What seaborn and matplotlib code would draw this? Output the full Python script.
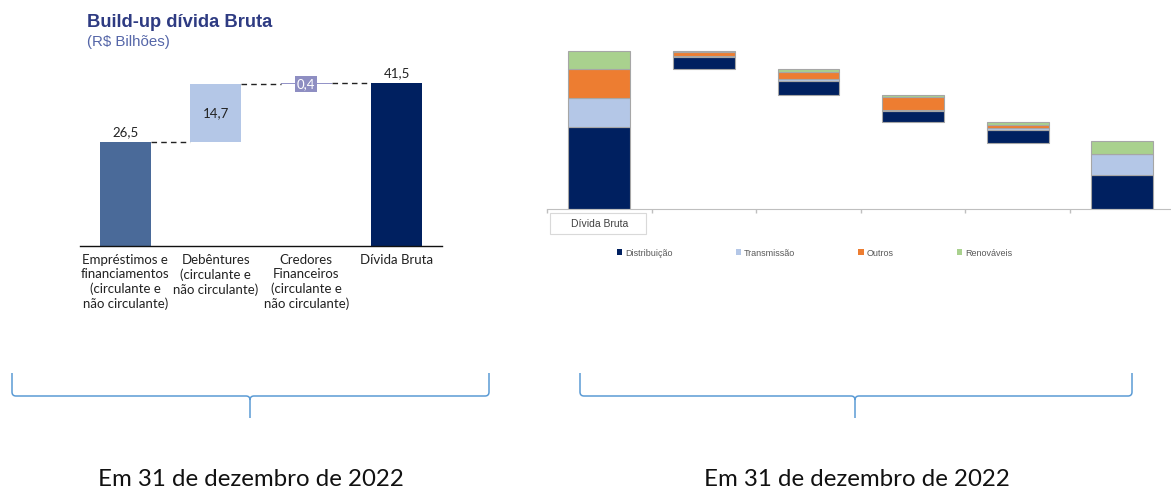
import numpy as np
import matplotlib.pyplot as plt
import seaborn as sns
from matplotlib.path import Path
from matplotlib.patches import PathPatch, Rectangle, Patch
from matplotlib.transforms import blended_transform_factory

# left chart data (R$ bilhões)
left_cats = ['Empréstimos e\nfinanciamentos\n(circulante e\nnão circulante)',
             'Debêntures\n(circulante e\nnão circulante)',
             'Credores\nFinanceiros\n(circulante e\nnão circulante)',
             'Dívida Bruta']
left_values = [26.5, 14.7, 0.4, 41.5]
left_labels = ['26,5', '14,7', '0,4', '41,5']
left_colors = ['#4a6a99', '#b4c7e7', '#9494c8', '#002060']

# right chart data (stacked waterfall)
right_cats = ['Dívida Bruta', 'b2', 'b3', 'b4', 'b5', 'b6']
seg_names = ['Distribuição', 'Transmissão', 'Outros', 'Renováveis']
seg_colors = ['#002060', '#b4c7e7', '#ed7d31', '#a9d18e']
distribuicao = [21.6, 3.1, 3.6, 3.0, 3.3, 9.0]
transmissao = [7.5, 0.35, 0.7, 0.15, 0.6, 5.4]
outros = [7.6, 1.1, 1.75, 3.5, 0.8, 0.1]
renovaveis = [4.8, 0.2, 0.8, 0.45, 0.7, 3.4]

W, H = 1171, 490
sns.set_style('white')
plt.rcParams['font.family'] = ['Lato', 'DejaVu Sans']

fig = plt.figure(figsize=(W / 100, H / 100), dpi=100)


def fx(x):
    return x / W


def fy(y):
    return 1 - y / H


# ---------------- left chart ----------------
ax1 = fig.add_axes([fx(80), fy(246), 362 / W, 186 / H])
left_bottoms = [0, left_values[0], left_values[0] + left_values[1], 0]
sns.barplot(x=left_cats, y=left_values, bottom=left_bottoms, width=0.56,
            color=left_colors[0], saturation=1, errorbar=None, ax=ax1)
for p, c in zip(ax1.patches, left_colors):
    p.set_facecolor(c)
    p.set_edgecolor('none')
ax1.set_xlim(-0.5, 3.5)
ax1.set_ylim(0, 186 / 3.92)
sns.despine(ax=ax1, left=True)
ax1.spines['bottom'].set_color('#111111')
ax1.spines['bottom'].set_linewidth(1)
ax1.set_yticks([])
ax1.set_ylabel('')
ax1.tick_params(axis='x', length=0, pad=6, labelsize=9.5, labelcolor='#222222')

# connectors
tops = [b + v for b, v in zip(left_bottoms, left_values)]
for i in range(3):
    ax1.plot([i + 0.28, i + 1 - 0.28], [tops[i], tops[i]], color='#222222',
             lw=1, ls=(0, (4, 3)))

# value labels
ax1.annotate(left_labels[0], (0, tops[0]), xytext=(0, 3), textcoords='offset points',
             ha='center', va='bottom', fontsize=9.5, color='#222222')
ax1.text(1, left_bottoms[1] + left_values[1] / 2, left_labels[1], ha='center',
         va='center', fontsize=9.5, color='#222222')
ax1.text(2, tops[2] - 0.2, left_labels[2], ha='center', va='center', fontsize=9.5,
         color='white', bbox=dict(boxstyle='square,pad=0.15', fc='#8e8ec2', ec='none'))
ax1.annotate(left_labels[3], (3, tops[3]), xytext=(0, 3), textcoords='offset points',
             ha='center', va='bottom', fontsize=9.5, color='#222222')

fig.text(fx(87), fy(27), 'Build-up dívida Bruta', family='Liberation Sans',
         fontweight='bold', fontsize=13.2, color='#2e3b82', va='baseline')
fig.text(fx(87), fy(46), '(R$ Bilhões)', family='Liberation Sans',
         fontsize=10.8, color='#5566a8', va='baseline')

# ---------------- right chart ----------------
ax2 = fig.add_axes([fx(547), fy(209), 6 * 104.6 / W, 169 / H])
segs = [distribuicao, transmissao, outros, renovaveis]
totals = [sum(s[i] for s in segs) for i in range(len(right_cats))]
bases = [0.0]
level = totals[0]
for i in range(1, len(right_cats) - 1):
    level = level - totals[i]
    bases.append(level)
bases.append(0.0)

cum = np.array(bases)
for name, vals, col in zip(seg_names, segs, seg_colors):
    sns.barplot(x=right_cats, y=vals, bottom=cum, width=0.59, color=col,
                edgecolor='#a6a6a6', linewidth=0.8, saturation=1,
                errorbar=None, ax=ax2)
    cum = cum + np.array(vals)

ax2.set_xlim(-0.5, 5.5)
ax2.set_ylim(0, 169 / 3.807)
sns.despine(ax=ax2, left=True)
ax2.spines['bottom'].set_color('#bfbfbf')
ax2.set_yticks([])
ax2.set_ylabel('')
ax2.set_xticks(range(len(right_cats)))
ax2.set_xticklabels([''] * len(right_cats))
ax2.tick_params(axis='x', which='major', length=0)
ax2.set_xticks(np.arange(-0.5, 6, 1), minor=True)
ax2.tick_params(axis='x', which='minor', length=3, color='#bfbfbf', width=1,
                direction='out', bottom=True)

bt = blended_transform_factory(ax2.transData, fig.transFigure)
ax2.add_patch(Rectangle((-0.47, fy(234)), 0.92, 21 / H, transform=bt,
                        fc='white', ec='#d9d9d9', lw=0.8, clip_on=False))
ax2.text(0, fy(223.5), right_cats[0], transform=bt, ha='center', va='center',
         family='Liberation Sans', fontsize=7.5, color='#404040')

handles = [Patch(fc=c, ec='none') for c in seg_colors]
fig.legend(handles, seg_names, loc='center left', bbox_to_anchor=(fx(617), fy(253)),
           ncol=4, frameon=False, prop={'family': 'Liberation Sans', 'size': 6.5},
           labelcolor='#595959', handlelength=0.6, handleheight=0.6,
           handletextpad=0.3, columnspacing=7.0, borderpad=0, borderaxespad=0)


# ---------------- braces and dates ----------------
def brace(x0, x1, xc, ytop=373, yh=396, ytip=418, r=4):
    verts = [(x0, ytop), (x0, yh - r), (x0, yh), (x0 + r, yh),
             (xc - r, yh), (xc, yh), (xc, yh + r), (xc, ytip),
             (xc, yh + r), (xc, yh), (xc + r, yh),
             (x1 - r, yh), (x1, yh), (x1, yh - r), (x1, ytop)]
    codes = [Path.MOVETO, Path.LINETO, Path.CURVE3, Path.CURVE3,
             Path.LINETO, Path.CURVE3, Path.CURVE3, Path.LINETO,
             Path.MOVETO, Path.CURVE3, Path.CURVE3,
             Path.LINETO, Path.CURVE3, Path.CURVE3, Path.LINETO]
    verts = [(fx(x), fy(y)) for x, y in verts]
    fig.add_artist(PathPatch(Path(verts, codes), fc='none', ec='#5b9bd5', lw=1.1,
                             transform=fig.transFigure))


brace(12, 489, 250)
brace(580, 1132, 855)

fig.text(fx(251), fy(486), 'Em 31 de dezembro de 2022', ha='center', va='baseline',
         fontsize=17.3, color='#111111')
fig.text(fx(857), fy(486), 'Em 31 de dezembro de 2022', ha='center', va='baseline',
         fontsize=17.3, color='#111111')

fig.savefig('out.png', dpi=100)
